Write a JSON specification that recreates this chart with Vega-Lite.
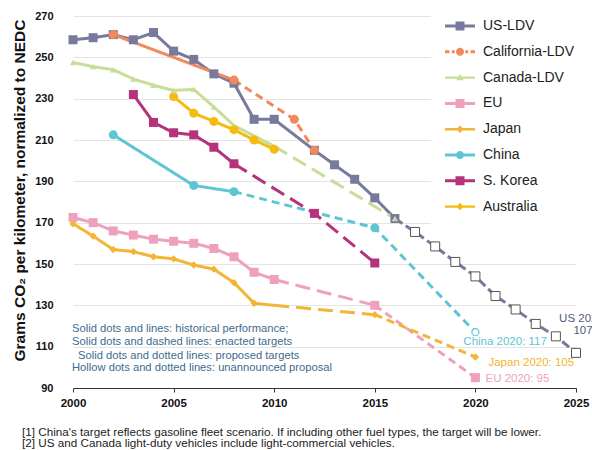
{
  "$schema": "https://vega.github.io/schema/vega-lite/v6.json",
  "width": 503,
  "height": 372,
  "autosize": "none",
  "padding": {"left": 73, "top": 16, "right": 16, "bottom": 62},
  "background": "white",
  "config": {"view": {"stroke": null}, "font": "Liberation Sans"},
  "title": {
    "text": ["[1] China's target reflects gasoline fleet scenario. If including other fuel types, the target will be lower.", "[2] US and Canada light-duty vehicles include light-commercial vehicles."],
    "orient": "bottom", "anchor": "start", "frame": "group", "fontSize": 11.7, "fontWeight": "normal", "color": "#222",
    "font": "Liberation Sans", "offset": 18, "dx": -51, "lineHeight": 11.5, "baseline": "top"
  },
  "resolve": {"legend": {"color": "independent", "shape": "independent"}},
  "datasets": {
    "lines": [
      {"series": "US-LDV", "seg": "US-h", "phase": "historical", "year": 2000, "value": 258.5},
      {"series": "US-LDV", "seg": "US-h", "phase": "historical", "year": 2001, "value": 259.5},
      {"series": "US-LDV", "seg": "US-h", "phase": "historical", "year": 2002, "value": 261},
      {"series": "US-LDV", "seg": "US-h", "phase": "historical", "year": 2003, "value": 258.5},
      {"series": "US-LDV", "seg": "US-h", "phase": "historical", "year": 2004, "value": 262},
      {"series": "US-LDV", "seg": "US-h", "phase": "historical", "year": 2005, "value": 253},
      {"series": "US-LDV", "seg": "US-h", "phase": "historical", "year": 2006, "value": 249},
      {"series": "US-LDV", "seg": "US-h", "phase": "historical", "year": 2007, "value": 242},
      {"series": "US-LDV", "seg": "US-h", "phase": "historical", "year": 2008, "value": 237.5},
      {"series": "US-LDV", "seg": "US-h", "phase": "historical", "year": 2009, "value": 220},
      {"series": "US-LDV", "seg": "US-h", "phase": "historical", "year": 2010, "value": 220},
      {"series": "US-LDV", "seg": "US-h", "phase": "historical", "year": 2012, "value": 205},
      {"series": "US-LDV", "seg": "US-h", "phase": "historical", "year": 2013, "value": 198},
      {"series": "US-LDV", "seg": "US-h", "phase": "historical", "year": 2014, "value": 191},
      {"series": "US-LDV", "seg": "US-h", "phase": "historical", "year": 2015, "value": 182},
      {"series": "US-LDV", "seg": "US-h", "phase": "historical", "year": 2016, "value": 172},
      {"series": "US-LDV", "seg": "US-u", "phase": "unannounced", "year": 2016, "value": 172},
      {"series": "US-LDV", "seg": "US-u", "phase": "unannounced", "year": 2017, "value": 165.5},
      {"series": "US-LDV", "seg": "US-u", "phase": "unannounced", "year": 2018, "value": 158.5},
      {"series": "US-LDV", "seg": "US-u", "phase": "unannounced", "year": 2019, "value": 151},
      {"series": "US-LDV", "seg": "US-u", "phase": "unannounced", "year": 2020, "value": 144},
      {"series": "US-LDV", "seg": "US-u", "phase": "unannounced", "year": 2021, "value": 134.5},
      {"series": "US-LDV", "seg": "US-u", "phase": "unannounced", "year": 2022, "value": 128},
      {"series": "US-LDV", "seg": "US-u", "phase": "unannounced", "year": 2023, "value": 121},
      {"series": "US-LDV", "seg": "US-u", "phase": "unannounced", "year": 2024, "value": 115},
      {"series": "US-LDV", "seg": "US-u", "phase": "unannounced", "year": 2025, "value": 107},
      {"series": "California-LDV", "seg": "CA-h", "phase": "historical", "year": 2002, "value": 261},
      {"series": "California-LDV", "seg": "CA-h", "phase": "historical", "year": 2008, "value": 239},
      {"series": "California-LDV", "seg": "CA-p", "phase": "proposed", "year": 2008, "value": 239},
      {"series": "California-LDV", "seg": "CA-p", "phase": "proposed", "year": 2011, "value": 220},
      {"series": "California-LDV", "seg": "CA-p", "phase": "proposed", "year": 2012, "value": 205},
      {"series": "Canada-LDV", "seg": "CN-h", "phase": "historical", "year": 2000, "value": 247.5},
      {"series": "Canada-LDV", "seg": "CN-h", "phase": "historical", "year": 2001, "value": 245.5},
      {"series": "Canada-LDV", "seg": "CN-h", "phase": "historical", "year": 2002, "value": 244},
      {"series": "Canada-LDV", "seg": "CN-h", "phase": "historical", "year": 2003, "value": 239.5},
      {"series": "Canada-LDV", "seg": "CN-h", "phase": "historical", "year": 2004, "value": 236.5},
      {"series": "Canada-LDV", "seg": "CN-h", "phase": "historical", "year": 2005, "value": 234},
      {"series": "Canada-LDV", "seg": "CN-h", "phase": "historical", "year": 2006, "value": 234.5},
      {"series": "Canada-LDV", "seg": "CN-h", "phase": "historical", "year": 2007, "value": 226},
      {"series": "Canada-LDV", "seg": "CN-h", "phase": "historical", "year": 2008, "value": 217},
      {"series": "Canada-LDV", "seg": "CN-h", "phase": "historical", "year": 2009, "value": 212},
      {"series": "Canada-LDV", "seg": "CN-h", "phase": "historical", "year": 2010, "value": 207},
      {"series": "Canada-LDV", "seg": "CN-e", "phase": "enacted", "year": 2010, "value": 207},
      {"series": "Canada-LDV", "seg": "CN-e", "phase": "enacted", "year": 2016, "value": 172},
      {"series": "EU", "seg": "EU-h", "phase": "historical", "year": 2000, "value": 172.5},
      {"series": "EU", "seg": "EU-h", "phase": "historical", "year": 2001, "value": 170},
      {"series": "EU", "seg": "EU-h", "phase": "historical", "year": 2002, "value": 166},
      {"series": "EU", "seg": "EU-h", "phase": "historical", "year": 2003, "value": 164},
      {"series": "EU", "seg": "EU-h", "phase": "historical", "year": 2004, "value": 162},
      {"series": "EU", "seg": "EU-h", "phase": "historical", "year": 2005, "value": 161},
      {"series": "EU", "seg": "EU-h", "phase": "historical", "year": 2006, "value": 160},
      {"series": "EU", "seg": "EU-h", "phase": "historical", "year": 2007, "value": 157.5},
      {"series": "EU", "seg": "EU-h", "phase": "historical", "year": 2008, "value": 153.5},
      {"series": "EU", "seg": "EU-h", "phase": "historical", "year": 2009, "value": 146},
      {"series": "EU", "seg": "EU-h", "phase": "historical", "year": 2010, "value": 142.5},
      {"series": "EU", "seg": "EU-e", "phase": "enacted", "year": 2010, "value": 142.5},
      {"series": "EU", "seg": "EU-e", "phase": "enacted", "year": 2015, "value": 130},
      {"series": "EU", "seg": "EU-p", "phase": "proposed", "year": 2015, "value": 130},
      {"series": "EU", "seg": "EU-p", "phase": "proposed", "year": 2020, "value": 95},
      {"series": "Japan", "seg": "JP-h", "phase": "historical", "year": 2000, "value": 169.5},
      {"series": "Japan", "seg": "JP-h", "phase": "historical", "year": 2001, "value": 163.5},
      {"series": "Japan", "seg": "JP-h", "phase": "historical", "year": 2002, "value": 157},
      {"series": "Japan", "seg": "JP-h", "phase": "historical", "year": 2003, "value": 156},
      {"series": "Japan", "seg": "JP-h", "phase": "historical", "year": 2004, "value": 153.5},
      {"series": "Japan", "seg": "JP-h", "phase": "historical", "year": 2005, "value": 152.5},
      {"series": "Japan", "seg": "JP-h", "phase": "historical", "year": 2006, "value": 149.5},
      {"series": "Japan", "seg": "JP-h", "phase": "historical", "year": 2007, "value": 147.5},
      {"series": "Japan", "seg": "JP-h", "phase": "historical", "year": 2008, "value": 141},
      {"series": "Japan", "seg": "JP-h", "phase": "historical", "year": 2009, "value": 131},
      {"series": "Japan", "seg": "JP-h", "phase": "historical", "year": 2010, "value": 130},
      {"series": "Japan", "seg": "JP-e", "phase": "enacted", "year": 2010, "value": 130},
      {"series": "Japan", "seg": "JP-e", "phase": "enacted", "year": 2015, "value": 125.5},
      {"series": "Japan", "seg": "JP-p", "phase": "proposed", "year": 2015, "value": 125.5},
      {"series": "Japan", "seg": "JP-p", "phase": "proposed", "year": 2020, "value": 105},
      {"series": "China", "seg": "CH-h", "phase": "historical", "year": 2002, "value": 212.5},
      {"series": "China", "seg": "CH-h", "phase": "historical", "year": 2006, "value": 188},
      {"series": "China", "seg": "CH-h", "phase": "historical", "year": 2008, "value": 185},
      {"series": "China", "seg": "CH-p", "phase": "proposed", "year": 2008, "value": 185},
      {"series": "China", "seg": "CH-p", "phase": "proposed", "year": 2015, "value": 167.5},
      {"series": "China", "seg": "CH-p", "phase": "proposed", "year": 2020, "value": 117},
      {"series": "S. Korea", "seg": "KR-h", "phase": "historical", "year": 2003, "value": 232},
      {"series": "S. Korea", "seg": "KR-h", "phase": "historical", "year": 2004, "value": 218.5},
      {"series": "S. Korea", "seg": "KR-h", "phase": "historical", "year": 2005, "value": 213.5},
      {"series": "S. Korea", "seg": "KR-h", "phase": "historical", "year": 2006, "value": 212.5},
      {"series": "S. Korea", "seg": "KR-h", "phase": "historical", "year": 2007, "value": 206.5},
      {"series": "S. Korea", "seg": "KR-h", "phase": "historical", "year": 2008, "value": 198.5},
      {"series": "S. Korea", "seg": "KR-e", "phase": "enacted", "year": 2008, "value": 198.5},
      {"series": "S. Korea", "seg": "KR-e", "phase": "enacted", "year": 2012, "value": 174.5},
      {"series": "S. Korea", "seg": "KR-e", "phase": "enacted", "year": 2015, "value": 150.5},
      {"series": "Australia", "seg": "AU-h", "phase": "historical", "year": 2005, "value": 231},
      {"series": "Australia", "seg": "AU-h", "phase": "historical", "year": 2006, "value": 223},
      {"series": "Australia", "seg": "AU-h", "phase": "historical", "year": 2007, "value": 219},
      {"series": "Australia", "seg": "AU-h", "phase": "historical", "year": 2008, "value": 215},
      {"series": "Australia", "seg": "AU-h", "phase": "historical", "year": 2009, "value": 210},
      {"series": "Australia", "seg": "AU-h", "phase": "historical", "year": 2010, "value": 205.5}
    ],
    "points": [
      {"series": "US-LDV", "kind": "solid", "year": 2000, "value": 258.5},
      {"series": "US-LDV", "kind": "solid", "year": 2001, "value": 259.5},
      {"series": "US-LDV", "kind": "solid", "year": 2002, "value": 261},
      {"series": "US-LDV", "kind": "solid", "year": 2003, "value": 258.5},
      {"series": "US-LDV", "kind": "solid", "year": 2004, "value": 262},
      {"series": "US-LDV", "kind": "solid", "year": 2005, "value": 253},
      {"series": "US-LDV", "kind": "solid", "year": 2006, "value": 249},
      {"series": "US-LDV", "kind": "solid", "year": 2007, "value": 242},
      {"series": "US-LDV", "kind": "solid", "year": 2008, "value": 237.5},
      {"series": "US-LDV", "kind": "solid", "year": 2009, "value": 220},
      {"series": "US-LDV", "kind": "solid", "year": 2010, "value": 220},
      {"series": "US-LDV", "kind": "solid", "year": 2012, "value": 205},
      {"series": "US-LDV", "kind": "solid", "year": 2013, "value": 198},
      {"series": "US-LDV", "kind": "solid", "year": 2014, "value": 191},
      {"series": "US-LDV", "kind": "solid", "year": 2015, "value": 182},
      {"series": "US-LDV", "kind": "solid", "year": 2016, "value": 172},
      {"series": "US-LDV", "kind": "hollow", "year": 2017, "value": 165.5},
      {"series": "US-LDV", "kind": "hollow", "year": 2018, "value": 158.5},
      {"series": "US-LDV", "kind": "hollow", "year": 2019, "value": 151},
      {"series": "US-LDV", "kind": "hollow", "year": 2020, "value": 144},
      {"series": "US-LDV", "kind": "hollow", "year": 2021, "value": 134.5},
      {"series": "US-LDV", "kind": "hollow", "year": 2022, "value": 128},
      {"series": "US-LDV", "kind": "hollow", "year": 2023, "value": 121},
      {"series": "US-LDV", "kind": "hollow", "year": 2024, "value": 115},
      {"series": "US-LDV", "kind": "hollow", "year": 2025, "value": 107},
      {"series": "California-LDV", "kind": "solid", "year": 2002, "value": 261},
      {"series": "California-LDV", "kind": "solid", "year": 2008, "value": 239},
      {"series": "California-LDV", "kind": "solid", "year": 2011, "value": 220},
      {"series": "California-LDV", "kind": "solid", "year": 2012, "value": 205},
      {"series": "Canada-LDV", "kind": "solid", "year": 2000, "value": 247.5},
      {"series": "Canada-LDV", "kind": "solid", "year": 2001, "value": 245.5},
      {"series": "Canada-LDV", "kind": "solid", "year": 2002, "value": 244},
      {"series": "Canada-LDV", "kind": "solid", "year": 2003, "value": 239.5},
      {"series": "Canada-LDV", "kind": "solid", "year": 2004, "value": 236.5},
      {"series": "Canada-LDV", "kind": "solid", "year": 2005, "value": 234},
      {"series": "Canada-LDV", "kind": "solid", "year": 2006, "value": 234.5},
      {"series": "Canada-LDV", "kind": "solid", "year": 2007, "value": 226},
      {"series": "Canada-LDV", "kind": "solid", "year": 2016, "value": 172},
      {"series": "EU", "kind": "solid", "year": 2000, "value": 172.5},
      {"series": "EU", "kind": "solid", "year": 2001, "value": 170},
      {"series": "EU", "kind": "solid", "year": 2002, "value": 166},
      {"series": "EU", "kind": "solid", "year": 2003, "value": 164},
      {"series": "EU", "kind": "solid", "year": 2004, "value": 162},
      {"series": "EU", "kind": "solid", "year": 2005, "value": 161},
      {"series": "EU", "kind": "solid", "year": 2006, "value": 160},
      {"series": "EU", "kind": "solid", "year": 2007, "value": 157.5},
      {"series": "EU", "kind": "solid", "year": 2008, "value": 153.5},
      {"series": "EU", "kind": "solid", "year": 2009, "value": 146},
      {"series": "EU", "kind": "solid", "year": 2010, "value": 142.5},
      {"series": "EU", "kind": "solid", "year": 2015, "value": 130},
      {"series": "EU", "kind": "solid", "year": 2020, "value": 95},
      {"series": "Japan", "kind": "solid", "year": 2000, "value": 169.5},
      {"series": "Japan", "kind": "solid", "year": 2001, "value": 163.5},
      {"series": "Japan", "kind": "solid", "year": 2002, "value": 157},
      {"series": "Japan", "kind": "solid", "year": 2003, "value": 156},
      {"series": "Japan", "kind": "solid", "year": 2004, "value": 153.5},
      {"series": "Japan", "kind": "solid", "year": 2005, "value": 152.5},
      {"series": "Japan", "kind": "solid", "year": 2006, "value": 149.5},
      {"series": "Japan", "kind": "solid", "year": 2007, "value": 147.5},
      {"series": "Japan", "kind": "solid", "year": 2008, "value": 141},
      {"series": "Japan", "kind": "solid", "year": 2009, "value": 131},
      {"series": "Japan", "kind": "solid", "year": 2015, "value": 125.5},
      {"series": "Japan", "kind": "solid", "year": 2020, "value": 105},
      {"series": "China", "kind": "solid", "year": 2002, "value": 212.5},
      {"series": "China", "kind": "solid", "year": 2006, "value": 188},
      {"series": "China", "kind": "solid", "year": 2008, "value": 185},
      {"series": "China", "kind": "solid", "year": 2015, "value": 167.5},
      {"series": "China", "kind": "hollow", "year": 2020, "value": 117},
      {"series": "S. Korea", "kind": "solid", "year": 2003, "value": 232},
      {"series": "S. Korea", "kind": "solid", "year": 2004, "value": 218.5},
      {"series": "S. Korea", "kind": "solid", "year": 2005, "value": 213.5},
      {"series": "S. Korea", "kind": "solid", "year": 2006, "value": 212.5},
      {"series": "S. Korea", "kind": "solid", "year": 2007, "value": 206.5},
      {"series": "S. Korea", "kind": "solid", "year": 2008, "value": 198.5},
      {"series": "S. Korea", "kind": "solid", "year": 2012, "value": 174.5},
      {"series": "S. Korea", "kind": "solid", "year": 2015, "value": 150.5},
      {"series": "Australia", "kind": "solid", "year": 2005, "value": 231},
      {"series": "Australia", "kind": "solid", "year": 2006, "value": 223},
      {"series": "Australia", "kind": "solid", "year": 2007, "value": 219},
      {"series": "Australia", "kind": "solid", "year": 2008, "value": 215},
      {"series": "Australia", "kind": "solid", "year": 2009, "value": 210},
      {"series": "Australia", "kind": "solid", "year": 2010, "value": 205.5}
    ],
    "labels": [
      {"series": "China", "year": 2019.4, "value": 112.3, "text": "China 2020: 117"},
      {"series": "Japan", "year": 2020.65, "value": 102, "text": "Japan 2020: 105"},
      {"series": "EU", "year": 2020.5, "value": 94.4, "text": "EU 2020: 95"}
    ],
    "uslabel": [
      {"series": "US-LDV", "year": 2025.35, "value": 123.5, "text": "US 2025:"},
      {"series": "US-LDV", "year": 2025.35, "value": 117.5, "text": "107"}
    ],
    "notes": [
      {"year": 1999.95, "value": 118.6, "text": "Solid dots and lines: historical performance;"},
      {"year": 1999.95, "value": 112.2, "text": "Solid dots and dashed lines: enacted targets"},
      {"year": 2000.25, "value": 105.5, "text": "Solid dots and dotted lines: proposed targets"},
      {"year": 1999.95, "value": 99.6, "text": "Hollow dots and dotted lines: unannounced proposal"}
    ]
  },
  "encoding": {
    "x": {"field": "year", "type": "quantitative",
      "scale": {"domain": [2000, 2025], "nice": false, "zero": false},
      "axis": {"values": [2000, 2005, 2010, 2015, 2020, 2025], "format": "d", "title": null,
        "labelFontSize": 11.5, "labelFontWeight": "bold", "labelColor": "#111", "labelPadding": 5,
        "tickSize": 4, "tickColor": "#333", "domainColor": "#333", "grid": false, "labelFlush": false}},
    "y": {"field": "value", "type": "quantitative",
      "scale": {"domain": [90, 270], "nice": false, "zero": false},
      "axis": {"values": [90, 110, 130, 150, 170, 190, 210, 230, 250, 270],
        "title": "Grams CO₂ per kilometer, normalized to NEDC", "titleFontSize": 15.5, "titleFontWeight": "bold",
        "titleColor": "#111", "titleX": -54, "titleY": 174, "titleAngle": -90, "titleAlign": "center", "titleBaseline": "middle",
        "labelFontSize": 11, "labelFontWeight": "bold", "labelColor": "#111", "labelPadding": 20,
        "ticks": false, "domain": false, "grid": true, "gridColor": "#e4e4e4", "gridWidth": 1}}
  },
  "layer": [
    {
      "data": {"name": "lines"},
      "mark": {"type": "line", "strokeWidth": 3},
      "encoding": {
        "color": {"field": "series", "type": "nominal", "legend": null,
          "scale": {"domain": ["US-LDV", "California-LDV", "Canada-LDV", "EU", "Japan", "China", "S. Korea", "Australia"],
            "range": ["#777a9c", "#f08a5e", "#c8dd96", "#f0a0bf", "#f2b535", "#5ec5d3", "#b5337a", "#f4bc0c"]}},
        "detail": {"field": "seg"},
        "strokeDash": {"field": "phase", "type": "nominal", "legend": null,
          "scale": {"domain": ["historical", "enacted", "proposed", "unannounced"],
            "range": [[1, 0], [15, 7], [8, 5], [9, 4]]}}
      }
    },
    {
      "data": {"name": "points"},
      "transform": [{"filter": {"field": "series", "oneOf": ["US-LDV", "EU", "S. Korea"]}}, {"filter": "datum.kind === 'solid'"}],
      "mark": {"type": "point", "shape": "square", "filled": true, "opacity": 1, "size": 81},
      "encoding": {"color": {"field": "series", "type": "nominal", "legend": null}}
    },
    {
      "data": {"name": "points"},
      "transform": [{"filter": {"field": "series", "oneOf": ["California-LDV", "China", "Australia"]}}, {"filter": "datum.kind === 'solid'"}],
      "mark": {"type": "point", "shape": "circle", "filled": true, "opacity": 1, "size": 81},
      "encoding": {"color": {"field": "series", "type": "nominal", "legend": null}}
    },
    {
      "data": {"name": "points"},
      "transform": [{"filter": {"field": "series", "oneOf": ["Canada-LDV"]}}],
      "mark": {"type": "point", "shape": "triangle-up", "filled": true, "opacity": 1, "size": 40},
      "encoding": {"color": {"field": "series", "type": "nominal", "legend": null}}
    },
    {
      "data": {"name": "points"},
      "transform": [{"filter": {"field": "series", "oneOf": ["Japan"]}}],
      "mark": {"type": "point", "shape": "diamond", "filled": true, "opacity": 1, "size": 55},
      "encoding": {"color": {"field": "series", "type": "nominal", "legend": null}}
    },
    {
      "data": {"name": "points"},
      "transform": [{"filter": "datum.kind === 'hollow' && datum.series === 'US-LDV'"}],
      "mark": {"type": "point", "shape": "square", "filled": false, "fill": "white", "stroke": "#555", "strokeWidth": 1, "opacity": 1, "size": 81}
    },
    {
      "data": {"name": "points"},
      "transform": [{"filter": "datum.kind === 'hollow' && datum.series === 'China'"}],
      "mark": {"type": "point", "shape": "circle", "filled": false, "fill": "white", "stroke": "#5ec5d3", "strokeWidth": 1.2, "opacity": 1, "size": 50}
    },
    {
      "data": {"name": "labels"},
      "mark": {"type": "text", "align": "left", "baseline": "middle", "fontSize": 11.5, "font": "Liberation Sans"},
      "encoding": {"text": {"field": "text"}, "color": {"field": "series", "type": "nominal", "legend": null}}
    },
    {
      "data": {"name": "uslabel"},
      "mark": {"type": "text", "align": "center", "baseline": "middle", "fontSize": 11.5, "font": "Liberation Sans", "color": "#55587a"},
      "encoding": {"text": {"field": "text"}}
    },
    {
      "data": {"name": "notes"},
      "mark": {"type": "text", "align": "left", "baseline": "middle", "fontSize": 11.2, "font": "Liberation Sans", "color": "#3d6b8e"},
      "encoding": {"text": {"field": "text"}}
    },
    {
      "data": {"name": "points"},
      "transform": [{"filter": "false"}],
      "mark": {"type": "point", "filled": true, "opacity": 1},
      "encoding": {
        "color": {"field": "series", "type": "nominal",
          "scale": {"domain": ["US-LDV", "California-LDV", "Canada-LDV", "EU", "Japan", "China", "S. Korea", "Australia"],
            "range": ["#777a9c", "#f08a5e", "#c8dd96", "#f0a0bf", "#f2b535", "#5ec5d3", "#b5337a", "#f4bc0c"]},
          "legend": {"title": null, "orient": "none", "legendX": 358, "legendY": -19, "padding": 14, "fillColor": "white",
            "symbolSize": 900, "symbolStrokeWidth": 0, "symbolOffset": 0, "labelFontSize": 14, "labelFont": "Liberation Sans",
            "labelColor": "#222", "labelOffset": 8, "rowPadding": 3.8, "labelLimit": 200}},
        "shape": {"field": "series", "type": "nominal",
          "scale": {"domain": ["US-LDV", "California-LDV", "Canada-LDV", "EU", "Japan", "China", "S. Korea", "Australia"],
            "range": [
              "M-1,-0.1H1V0.1H-1Z M-0.3,-0.3H0.3V0.3H-0.3Z",
              "M-1,-0.1H-0.7V0.1H-1Z M-0.55,-0.1H-0.35V0.1H-0.55Z M0.35,-0.1H0.55V0.1H0.35Z M0.7,-0.1H1V0.1H0.7Z M-0.27,0A0.27,0.27,0,1,1,0.27,0A0.27,0.27,0,1,1,-0.27,0Z",
              "M-1,-0.08H1V0.08H-1Z M0,-0.25L0.25,0.18L-0.25,0.18Z",
              "M-1,-0.1H1V0.1H-1Z M-0.3,-0.3H0.3V0.3H-0.3Z",
              "M-1,-0.08H1V0.08H-1Z M0,-0.25L0.25,0L0,0.25L-0.25,0Z",
              "M-1,-0.1H1V0.1H-1Z M-0.27,0A0.27,0.27,0,1,1,0.27,0A0.27,0.27,0,1,1,-0.27,0Z",
              "M-1,-0.1H1V0.1H-1Z M-0.3,-0.3H0.3V0.3H-0.3Z",
              "M-1,-0.08H1V0.08H-1Z M0,-0.25L0.25,0L0,0.25L-0.25,0Z"
            ]},
          "legend": {"title": null, "orient": "none", "legendX": 358, "legendY": -19, "padding": 14, "fillColor": "white",
            "symbolSize": 900, "symbolStrokeWidth": 0, "symbolOffset": 0, "labelFontSize": 14, "labelFont": "Liberation Sans",
            "labelColor": "#222", "labelOffset": 8, "rowPadding": 3.8, "labelLimit": 200}}
      }
    }
  ]
}
